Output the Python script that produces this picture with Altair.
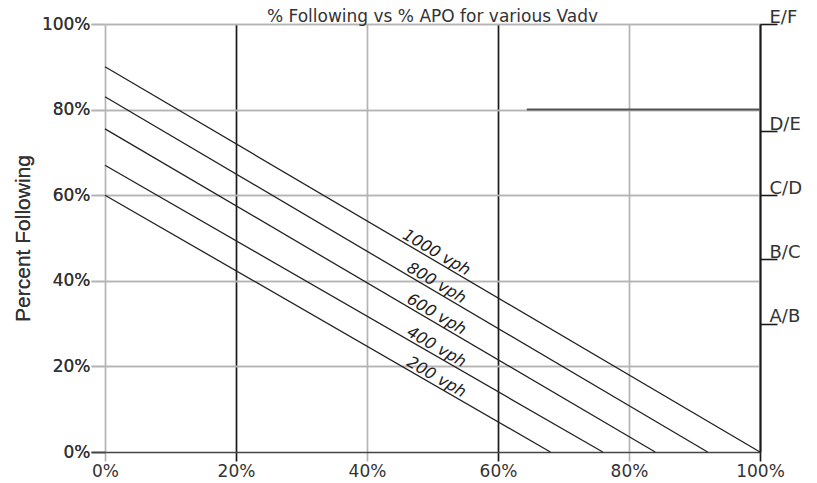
import math
import altair as alt
import pandas as pd

# ---- data ----
speeds = [200, 400, 600, 800, 1000]          # vph
y_intercepts = [60, 67, 75.5, 83, 90]        # % following at 0% APO
x_intercepts = [68, 76, 84, 92, 100]         # % APO where following reaches 0%
label_x = [50, 50, 50, 50, 50]               # where each curve label sits (% APO)
x_ticks = [0, 20, 40, 60, 80, 100]
y_ticks = [0, 20, 40, 60, 80, 100]
grade_levels = [30, 45, 60, 75, 100]
grade_labels = ["A/B", "B/C", "C/D", "D/E", "E/F"]
dark_segment_x = [64.4, 100]
dark_segment_y = [80, 80]

W, H = 655, 428

line_rows = []
for s, yi, xi in zip(speeds, y_intercepts, x_intercepts):
    line_rows.append({"speed": s, "apo": 0, "follow": yi})
    line_rows.append({"speed": s, "apo": xi, "follow": 0})
lines_df = pd.DataFrame(line_rows)

label_rows = []
for s, yi, xi, lx in zip(speeds, y_intercepts, x_intercepts, label_x):
    ang = math.degrees(math.atan((yi / 100 * H) / (xi / 100 * W)))
    label_rows.append({"label": f"{s} vph", "apo": lx, "follow": yi * (1 - lx / xi), "angle": ang})
labels_df = pd.DataFrame(label_rows)

seg_df = pd.DataFrame({"apo": dark_segment_x, "follow": dark_segment_y})

grade_expr = " : ".join(
    f"datum.value == {v} ? '{t}'" for v, t in zip(grade_levels, grade_labels)
) + " : ''"

GRAY = "#b4b4b4"
DARK = "#1a1a1a"
TXT = "#333333"
CAD_FONT = "DejaVu Sans"

x_scale = alt.Scale(domain=[0, 100], nice=False, zero=False)
y_scale = alt.Scale(domain=[0, 100], nice=False, zero=False)

x_axis = alt.Axis(
    orient="bottom",
    values=x_ticks,
    labelExpr="datum.value + '%'",
    title=None,
    grid=True,
    gridColor={"condition": {"test": "datum.value % 40 == 20", "value": DARK}, "value": GRAY},
    gridWidth=1.7,
    tickColor={"condition": {"test": "datum.value % 40 == 20", "value": DARK}, "value": GRAY},
    tickWidth=1.7,
    tickSize=9,
    domainColor="#444444",
    domainWidth=1.6,
    labelPadding=2,
    labelFont=CAD_FONT,
    labelFontSize=17,
    labelColor=TXT,
    labelFlush=False,
    labelOverlap=False,
    labelBound=False,
)

y_axis_left = alt.Axis(
    orient="left",
    values=y_ticks,
    labelExpr="datum.value + '%'",
    title="Percent Following",
    titleFont="Liberation Sans",
    titleFontSize=21,
    titleFontWeight="normal",
    titleColor=TXT,
    titleAngle=270,
    titleBaseline="bottom",
    titleX=-72,
    grid=True,
    gridColor={"condition": {"test": "datum.value == 0", "value": "transparent"}, "value": GRAY},
    gridWidth=1.7,
    tickColor={"condition": {"test": "datum.value == 0", "value": "#444444"}, "value": GRAY},
    tickWidth=1.6,
    tickSize=14,
    domain=False,
    labelPadding=1,
    labelFont=CAD_FONT,
    labelFontSize=17,
    labelColor=TXT,
    labelOverlap=False,
    labelBound=False,
)

y_axis_right = alt.Axis(
    orient="right",
    values=grade_levels,
    labelExpr=grade_expr,
    title=None,
    grid=False,
    domainColor=DARK,
    domainWidth=1.8,
    tickColor=DARK,
    tickWidth=1.6,
    tickSize=17,
    labelPadding=-8,
    labelAlign="left",
    labelBaseline="alphabetic",
    labelOffset=-2,
    labelFont=CAD_FONT,
    labelFontSize=18,
    labelColor=TXT,
    labelOverlap=False,
    labelBound=False,
)

lines = alt.Chart(lines_df).mark_line(color="#222222", strokeWidth=1.3).encode(
    x=alt.X("apo:Q", scale=x_scale, axis=x_axis),
    y=alt.Y("follow:Q", scale=y_scale, axis=y_axis_left),
    detail="speed:N",
)

segment = alt.Chart(seg_df).mark_line(color="#555555", strokeWidth=2).encode(
    x=alt.X("apo:Q", scale=x_scale, axis=x_axis),
    y=alt.Y("follow:Q", scale=y_scale, axis=y_axis_right),
)

labels = alt.Chart(labels_df).mark_text(
    font=CAD_FONT,
    fontStyle="italic",
    fontSize=16,
    align="center",
    baseline="bottom",
    color="#222222",
).encode(
    x=alt.X("apo:Q", scale=x_scale, axis=x_axis),
    y=alt.Y("follow:Q", scale=y_scale, axis=y_axis_left),
    angle=alt.Angle("angle:Q", scale=None),
    text="label:N",
)

chart = (
    alt.layer(lines, segment, labels)
    .resolve_axis(y="independent")
    .resolve_scale(y="shared")
    .properties(
        width=W,
        height=H,
        padding={"left": 105, "top": 24, "right": 57, "bottom": 31},
        autosize=alt.AutoSizeParams(type="none"),
        title=alt.TitleParams(
            text="% Following vs % APO for various Vadv",
            font=CAD_FONT,
            fontSize=17,
            fontWeight="normal",
            color=TXT,
            anchor="middle",
            frame="group",
            baseline="alphabetic",
            dy=35,
        ),
        background="white",
    )
    .configure_view(stroke=None)
)

chart.save("out.html", embed_options={"renderer": "svg", "actions": False})
